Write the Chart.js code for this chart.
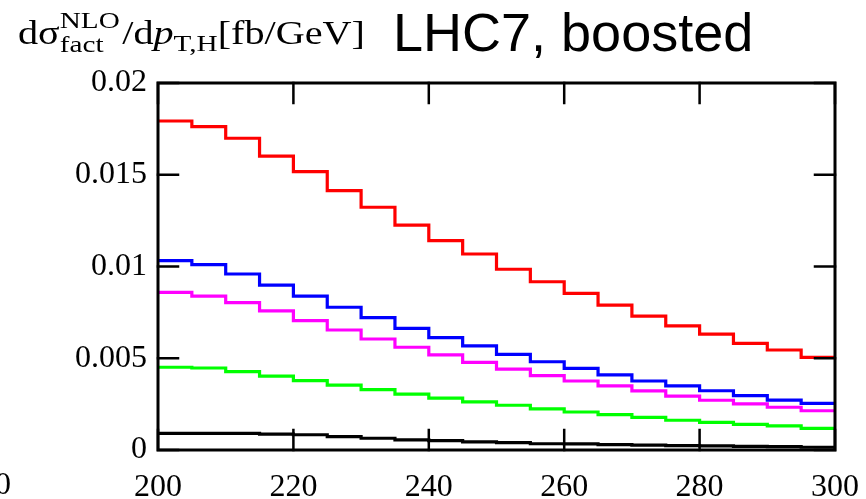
<!DOCTYPE html>
<html>
<head>
<meta charset="utf-8">
<script src="https://cdn.jsdelivr.net/npm/chart.js@4.4.1/dist/chart.umd.min.js"></script>
<style>
html,body{margin:0;padding:0;background:#fff;}
#wrap{width:866px;height:499px;position:relative;}
</style>
</head>
<body>
<div id="wrap"><canvas id="c" width="866" height="499"></canvas></div>
<script>
// Bin edges (GeV), 20 bins of width 5
const binEdges = [200,205,210,215,220,225,230,235,240,245,250,255,260,265,270,275,280,285,290,295,300];
const xTickLabels = ['200','220','240','260','280','300'];
const yTickLabels = ['0','0.005','0.01','0.015','0.02'];

const redVals = [0.01793,0.01762,0.01699,0.01602,0.01517,0.01413,0.01323,0.01226,0.01141,0.01068,0.00985,0.00917,0.00854,0.00790,0.00730,0.00676,0.00632,0.00581,0.00545,0.00505];
const blueVals = [0.01032,0.01010,0.00959,0.00899,0.00839,0.00778,0.00721,0.00663,0.00612,0.00567,0.00521,0.00481,0.00445,0.00409,0.00376,0.00350,0.00323,0.00296,0.00272,0.00254];
const magentaVals = [0.00859,0.00839,0.00803,0.00758,0.00705,0.00654,0.00605,0.00560,0.00518,0.00478,0.00441,0.00405,0.00376,0.00349,0.00322,0.00294,0.00271,0.00251,0.00233,0.00214];
const greenVals = [0.00451,0.00447,0.00427,0.00403,0.00378,0.00354,0.00329,0.00305,0.00283,0.00262,0.00244,0.00224,0.00207,0.00193,0.00178,0.00162,0.00151,0.00140,0.00131,0.00118];
const blackVals = [0.00091,0.00091,0.00091,0.00087,0.00083,0.00073,0.00064,0.00055,0.00051,0.00044,0.00040,0.00034,0.00033,0.00029,0.00027,0.00024,0.00022,0.00020,0.00018,0.00015];

function stepPoints(vals){
  const pts = vals.map((v,i)=>({x:binEdges[i], y:v}));
  pts.push({x:binEdges[binEdges.length-1], y:vals[vals.length-1]});
  return pts;
}
function ds(vals,color){
  return {data:stepPoints(vals), borderColor:color, borderWidth:3.2, stepped:'before',
          pointRadius:0, fill:false, tension:0, borderCapStyle:'butt', borderJoinStyle:'miter'};
}

const SERIF = '"Liberation Serif", "DejaVu Serif", serif';
const SANS = '"Liberation Sans", Arial, sans-serif';

const framePlugin = {
  id:'frame',
  afterDatasetsDraw(chart){
    const {ctx, chartArea:a, scales:{x,y}} = chart;
    ctx.save();
    ctx.strokeStyle='#000';
    ctx.lineWidth=3;
    ctx.lineCap='square';
    ctx.strokeRect(a.left,a.top,a.right-a.left,a.bottom-a.top);
    const tl=20;
    ctx.lineWidth=2.5;
    ctx.beginPath();
    x.ticks.forEach(t=>{
      const px=x.getPixelForValue(t.value);
      ctx.moveTo(px,a.bottom); ctx.lineTo(px,a.bottom-tl);
      ctx.moveTo(px,a.top); ctx.lineTo(px,a.top+tl);
    });
    y.ticks.forEach(t=>{
      const py=y.getPixelForValue(t.value);
      ctx.moveTo(a.left,py); ctx.lineTo(a.left+tl,py);
      ctx.moveTo(a.right,py); ctx.lineTo(a.right-tl,py);
    });
    ctx.stroke();
    ctx.restore();
  },
  afterDraw(chart){
    const ctx=chart.ctx;
    ctx.save();
    ctx.fillStyle='#000';
    ctx.textBaseline='alphabetic';
    // Title
    ctx.font='54px '+SANS;
    ctx.textAlign='left';
    ctx.fillText('LHC7, boosted',393,51);
    // Y axis label with super/subscripts, fitted to its width in the reference
    const big='33px '+SERIF, small='24px '+SERIF, ital='italic 33px '+SERIF;
    const parts=[];
    function seg(txt,font,dy,adv){parts.push({txt,font,dy,adv});}
    seg('dσ',big,0,true);
    seg('NLO',small,-16,false);
    seg('fact',small,8,'max');
    seg('/d',big,0,true);
    seg('p',ital,0,true);
    seg('T,H',small,7,true);
    seg('[fb/GeV]',big,0,true);
    let xp=0; const pos=[]; let pendW=0;
    parts.forEach(p=>{
      ctx.font=p.font; const w=ctx.measureText(p.txt).width;
      if(p.adv===false){pos.push(xp); pendW=w;}
      else if(p.adv==='max'){pos.push(xp); xp+=Math.max(w,pendW)+2; pendW=0;}
      else {pos.push(xp); xp+=w;}
    });
    const total=xp, startX=18, targetW=347;
    ctx.translate(startX,44);
    ctx.scale(targetW/total,1);
    parts.forEach((p,i)=>{ctx.font=p.font; ctx.fillText(p.txt,pos[i],p.dy);});
    ctx.setTransform(1,0,0,1,0,0);
    // stray clipped tick label at far left
    ctx.font='32px '+SERIF;
    ctx.textAlign='center';
    ctx.fillText('0',3,494);
    ctx.restore();
  }
};

new Chart(document.getElementById('c'),{
  type:'line',
  data:{datasets:[ds(redVals,'#ff0000'),ds(blueVals,'#0000ff'),ds(magentaVals,'#ff00ff'),ds(greenVals,'#00ff00'),ds(blackVals,'#000000')]},
  options:{
    responsive:false, animation:false,
    layout:{padding:{left:0,right:31,top:83,bottom:0}},
    plugins:{legend:{display:false},tooltip:{enabled:false}},
    scales:{
      x:{type:'linear',min:200,max:300,
        grid:{display:false,drawTicks:false}, border:{display:false},
        ticks:{stepSize:20,padding:18,color:'#000',font:{family:SERIF,size:32},maxRotation:0,
          callback:(v)=>xTickLabels.includes(String(v))?String(v):''},
        afterFit(s){s.height=49; s.paddingLeft=0; s.paddingRight=0;}
      },
      y:{min:0,max:0.02,
        grid:{display:false,drawTicks:false}, border:{display:false},
        ticks:{stepSize:0.005,padding:11,color:'#000',font:{family:SERIF,size:32},
          callback:(v)=>{const s=String(+v.toFixed(3)); return yTickLabels.includes(s)?s:'';}},
        afterFit(s){s.width=158; s.paddingTop=0; s.paddingBottom=0;}
      }
    }
  },
  plugins:[framePlugin]
});
</script>
</body>
</html>
